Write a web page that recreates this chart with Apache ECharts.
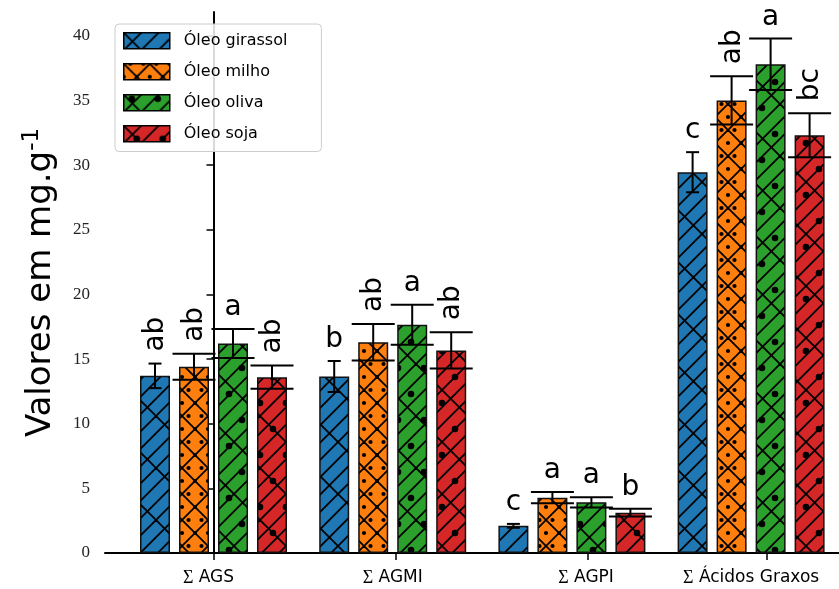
<!DOCTYPE html>
<html>
<head>
<meta charset="utf-8">
<script src="https://cdn.jsdelivr.net/npm/echarts@6/dist/echarts.min.js"></script>
<style>
  html, body { margin: 0; padding: 0; background: #ffffff; }
  #chart { width: 839px; height: 589px; }
</style>
</head>
<body>
<div id="chart"></div>
<script>
// Fatty-acid groups and oils
const categories = ['AGS', 'AGMI', 'AGPI', 'Ácidos Graxos'];
const oils = ['Óleo girassol', 'Óleo milho', 'Óleo oliva', 'Óleo soja'];

// Means (mg.g-1)
const girassol = [13.7, 13.65, 2.1, 29.45];
const milho = [14.4, 16.3, 4.28, 35.0];
const oliva = [16.2, 17.65, 3.92, 37.8];
const soja = [13.6, 15.67, 3.12, 32.3];

// Standard deviations
const girassolErr = [0.95, 1.2, 0.15, 1.55];
const milhoErr = [1.0, 1.42, 0.44, 1.87];
const olivaErr = [1.12, 1.55, 0.4, 2.0];
const sojaErr = [0.9, 1.4, 0.3, 1.7];

// Significance letters
const girassolLetters = ['ab', 'b', 'c', 'c'];
const milhoLetters = ['ab', 'ab', 'a', 'ab'];
const olivaLetters = ['a', 'a', 'a', 'a'];
const sojaLetters = ['ab', 'ab', 'b', 'bc'];

// Axis ticks
const yTicks = [0, 5, 10, 15, 20, 25, 30, 35, 40];
const xTickPositions = [0.003, 1.017, 2.09, 3.089];
const xLabelPositions = [-0.028, 1.0, 2.079, 3.0];

const means = [girassol, milho, oliva, soja];
const errs = [girassolErr, milhoErr, olivaErr, sojaErr];
const letters = [girassolLetters, milhoLetters, olivaLetters, sojaLetters];
const colors = ['#1f77b4', '#ff7f0e', '#2ca02c', '#d62728'];

// Layout constants for the grouped bars
const BAR_W = 30;
const BAR_GAP = 9;
const CAP_HALF = [6.5, 21.5, 21.5, 21.5];
const LETTER_SIZE = 28;

// Hatch textures
const TILE = 52;
function makeTile(bg, ne, se, dots) {
  const c = document.createElement('canvas');
  c.width = TILE; c.height = TILE;
  const g = c.getContext('2d');
  g.fillStyle = bg;
  g.fillRect(0, 0, TILE, TILE);
  g.strokeStyle = '#000';
  g.lineWidth = 1.8;
  if (ne) {
    for (let k = -2 * TILE; k <= 3 * TILE + 0.01; k += ne) {
      g.beginPath();
      g.moveTo(k + TILE, -TILE);
      g.lineTo(k - 2 * TILE, 2 * TILE);
      g.stroke();
    }
  }
  if (se) {
    for (let k = -2 * TILE; k <= 3 * TILE + 0.01; k += se) {
      g.beginPath();
      g.moveTo(-TILE - k, -TILE);
      g.lineTo(2 * TILE - k, 2 * TILE);
      g.stroke();
    }
  }
  if (dots) {
    g.fillStyle = '#000';
    dots.pts.forEach(function (p) {
      for (let ox = -TILE; ox <= TILE; ox += TILE) {
        for (let oy = -TILE; oy <= TILE; oy += TILE) {
          g.beginPath();
          g.arc(p[0] + ox, p[1] + oy, dots.r, 0, Math.PI * 2);
          g.fill();
        }
      }
    });
  }
  return { image: c, repeat: 'repeat' };
}

const patterns = [
  makeTile(colors[0], TILE / 3, TILE, null),
  makeTile(colors[1], TILE / 2, TILE / 2, {
    r: 2.1,
    pts: [[6.5, 0], [19.5, 0], [32.5, 0], [45.5, 0], [6.5, 26], [19.5, 26], [32.5, 26], [45.5, 26],
          [0, 13], [13, 13], [26, 13], [39, 13], [0, 39], [13, 39], [26, 39], [39, 39]]
  }),
  makeTile(colors[2], TILE / 3, TILE, { r: 3.3, pts: [[8, 4], [34, 4], [21, 30], [47, 30]] }),
  makeTile(colors[3], TILE / 3, TILE, { r: 3.3, pts: [[13, 13], [39, 13], [0, 39], [26, 39]] })
];

function errorRenderer(oi) {
  return function (params, api) {
    const x = api.value(0), m = api.value(1), e = api.value(2);
    const step = BAR_W + BAR_GAP;
    const cx = api.coord([x, m])[0] + (oi - 1.5) * step;
    const yTop = api.coord([x, m + e])[1];
    const yBot = api.coord([x, m - e])[1];
    const hw = CAP_HALF[oi];
    const stroke = { stroke: '#000', lineWidth: 2 };
    const txt = letters[oi][params.dataIndex];
    const children = [
      { type: 'line', shape: { x1: cx, y1: yTop, x2: cx, y2: yBot }, style: stroke },
      { type: 'line', shape: { x1: cx - hw, y1: yTop, x2: cx + hw, y2: yTop }, style: stroke },
      { type: 'line', shape: { x1: cx - hw, y1: yBot, x2: cx + hw, y2: yBot }, style: stroke }
    ];
    if (txt.length > 1) {
      children.push({
        type: 'text', x: cx + 1, y: yTop - 12, rotation: Math.PI / 2,
        style: { text: txt, fill: '#000', fontSize: LETTER_SIZE, fontFamily: 'DejaVu Sans', align: 'left', verticalAlign: 'middle' }
      });
    } else {
      children.push({
        type: 'text', x: cx, y: yTop - 7,
        style: { text: txt, fill: '#000', fontSize: LETTER_SIZE, fontFamily: 'DejaVu Sans', align: 'center', verticalAlign: 'bottom' }
      });
    }
    return { type: 'group', children: children };
  };
}

const series = [];
oils.forEach(function (name, oi) {
  series.push({
    name: name,
    type: 'bar',
    barWidth: BAR_W,
    barGap: (BAR_GAP / BAR_W * 100) + '%',
    data: means[oi].map(function (v, i) { return [i, v]; }),
    itemStyle: { color: patterns[oi], borderColor: '#111', borderWidth: 1.5 },
    emphasis: { disabled: true },
    z: 2
  });
});
oils.forEach(function (name, oi) {
  series.push({
    name: name + ' desvio',
    type: 'custom',
    renderItem: errorRenderer(oi),
    data: means[oi].map(function (v, i) { return [i, v, errs[oi][i]]; }),
    encode: { x: 0, y: 1 },
    z: 5,
    silent: true
  });
});

const chart = echarts.init(document.getElementById('chart'), null, { renderer: 'canvas' });
chart.setOption({
  animation: false,
  backgroundColor: '#ffffff',
  textStyle: { fontFamily: 'DejaVu Sans' },
  grid: { left: 105, right: 0, top: 12, bottom: 36, outerBoundsMode: 'none' },
  legend: {
    data: oils.map(function (n) { return { name: n, icon: 'rect' }; }),
    orient: 'vertical',
    left: 115,
    top: 24,
    itemWidth: 46,
    itemHeight: 16,
    itemGap: 13.5,
    padding: [8, 34, 9, 8],
    backgroundColor: 'rgba(255,255,255,0.85)',
    borderColor: '#cccccc',
    borderWidth: 1,
    borderRadius: 4,
    selectedMode: false,
    itemStyle: { borderColor: '#000', borderWidth: 1.5 },
    textStyle: { fontSize: 16, lineHeight: 16, color: '#000', fontFamily: 'DejaVu Sans', padding: [0, 0, 0, 9] }
  },
  xAxis: {
    type: 'value',
    min: -0.6055,
    max: 3.4905,
    splitLine: { show: false },
    axisLine: { show: true, onZero: false, lineStyle: { color: '#000', width: 2 } },
    axisTick: { show: true, customValues: xTickPositions, length: 7, lineStyle: { color: '#000', width: 1.5 } },
    axisLabel: {
      customValues: xLabelPositions,
      margin: 16,
      fontSize: 17,
      color: '#000',
      fontFamily: 'DejaVu Sans',
      formatter: function (v) {
        let best = 0;
        xLabelPositions.forEach(function (p, i) {
          if (Math.abs(p - v) < Math.abs(xLabelPositions[best] - v)) best = i;
        });
        return '{s|Σ} ' + categories[best];
      },
      rich: { s: { fontFamily: 'Liberation Serif', fontSize: 18, color: '#000' } }
    }
  },
  yAxis: {
    type: 'value',
    min: 0,
    max: 41.84,
    splitLine: { show: false },
    axisLine: { show: true, lineStyle: { color: '#000', width: 2 } },
    axisTick: { show: true, customValues: yTicks, length: 7, lineStyle: { color: '#000', width: 1.5 } },
    axisLabel: { customValues: yTicks, fontFamily: 'Liberation Serif', fontSize: 17, color: '#222', margin: 15 },
    name: '{t|Valores em mg.g}{s|-1}',
    nameLocation: 'middle',
    nameRotate: 90,
    nameGap: 44,
    nameTextStyle: {
      rich: {
        t: { fontSize: 34, fontFamily: 'DejaVu Sans', color: '#000', lineHeight: 40 },
        s: { fontSize: 23, fontFamily: 'DejaVu Sans', color: '#000', verticalAlign: 'top', lineHeight: 23 }
      }
    }
  },
  series: series
});
</script>
</body>
</html>
